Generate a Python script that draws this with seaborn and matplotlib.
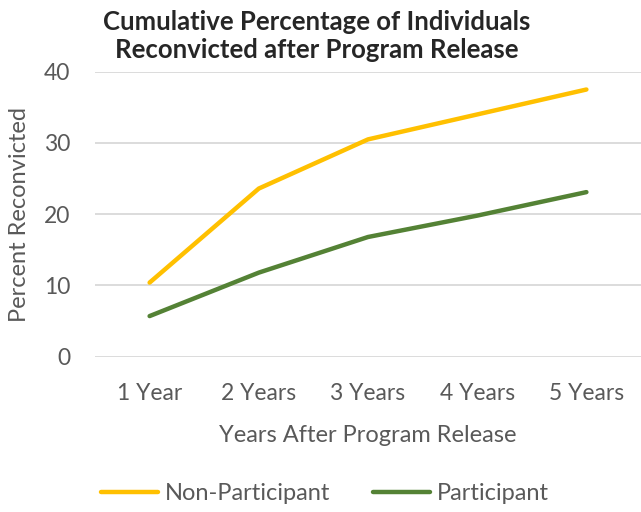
import seaborn as sns
import matplotlib.pyplot as plt
import pandas as pd

years = ["1 Year", "2 Years", "3 Years", "4 Years", "5 Years"]
non_participant = [10.4, 23.6, 30.5, 34.0, 37.5]
participant = [5.7, 11.8, 16.8, 19.8, 23.1]

df = pd.DataFrame({
    "Year": years * 2,
    "Percent": non_participant + participant,
    "Group": ["Non-Participant"] * 5 + ["Participant"] * 5,
})

sns.set_style("white")
plt.rcParams["font.family"] = ["Lato", "DejaVu Sans"]

fig = plt.figure(figsize=(6.41, 5.12), dpi=100)
ax = fig.add_axes([95 / 641, 1 - 356.7 / 512, 1 - 95 / 641, (356.7 - 71.7) / 512])

sns.lineplot(data=df, x="Year", y="Percent", hue="Group", sort=False,
             palette={"Non-Participant": "#FFC000", "Participant": "#548235"},
             linewidth=3.2, ax=ax, solid_capstyle="round")

ax.set_ylim(0, 40)
ax.set_xlim(-0.5, 4.5)
ax.set_yticks([0, 10, 20, 30, 40])
ax.yaxis.grid(True, color="#d9d9d9", linewidth=1.3)
ax.set_axisbelow(True)
for s in ax.spines.values():
    s.set_visible(False)
ax.tick_params(axis="both", length=0, labelsize=16.5, colors="#595959")
ax.tick_params(axis="y", pad=18)
ax.tick_params(axis="x", pad=19)

ax.set_xlabel("Years After Program Release", fontsize=17, color="#595959")
ax.set_ylabel("Percent Reconvicted", fontsize=17, color="#595959")
ax.xaxis.set_label_coords(0.5, (356.7 - 435) / 285)
ax.xaxis.label.set_va("center")
ax.yaxis.set_label_coords((19 - 95) / 546, 0.5)
ax.yaxis.label.set_va("center")

fig.text(317 / 641, 1 - 36 / 512, "Cumulative Percentage of Individuals\nReconvicted after Program Release",
         ha="center", va="center", fontsize=18.5, fontweight="bold", linespacing=1.2)

ax.legend(loc="center", ncol=2, frameon=False, fontsize=17, handlelength=2.4,
          columnspacing=1.8, handletextpad=0.3, labelcolor="#595959")
leg = ax.get_legend()
leg.set_bbox_to_anchor((325 / 641, 1 - 494 / 512), transform=fig.transFigure)

fig.savefig("out.png", dpi=100)
